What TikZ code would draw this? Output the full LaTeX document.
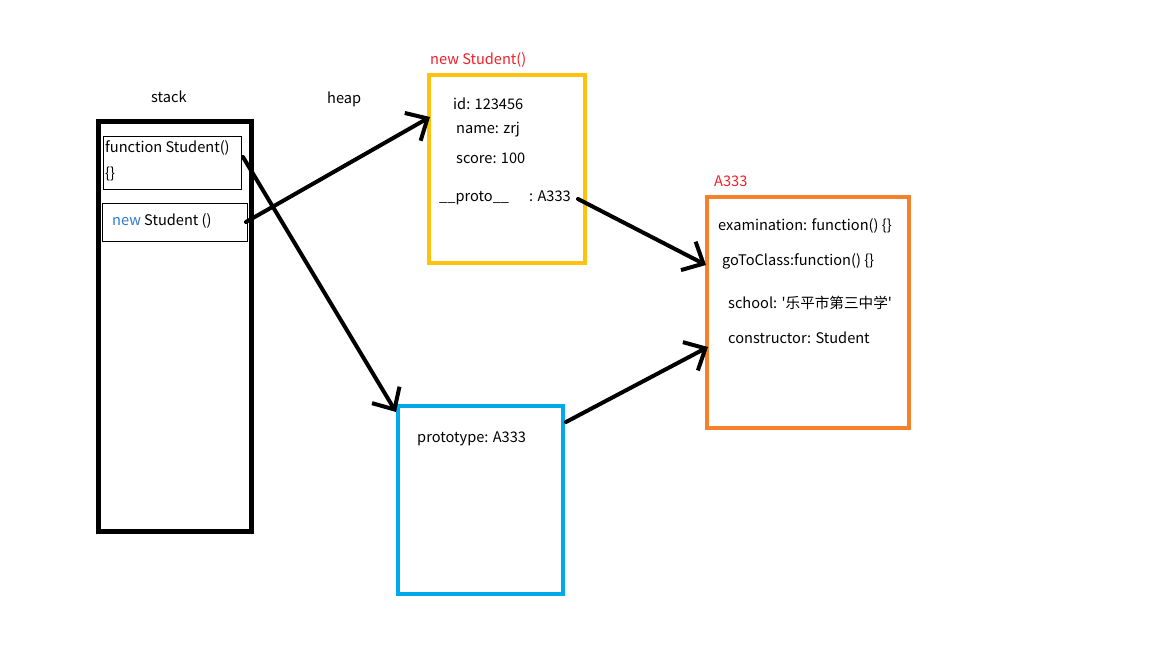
\documentclass[tikz,border=0pt]{standalone}
\usepackage{fontspec}
\setmainfont{Noto Sans CJK SC}[Ligatures=TeXOff]
\usetikzlibrary{arrows.meta}
\definecolor{yel}{HTML}{FFC20E}
\definecolor{org}{HTML}{F7812A}
\definecolor{blu}{HTML}{00A8EC}
\definecolor{lbl}{HTML}{F0202A}
\definecolor{newblue}{HTML}{2E7BC6}
\begin{document}
\begin{tikzpicture}[x=1pt,y=-1pt,
  txt/.style={anchor=west,inner sep=0pt,font=\fontsize{14.6}{17}\selectfont},
  red/.style={txt,text=lbl},
  arr/.style={line width=4pt,line cap=round,-{Straight Barb[length=17pt,width=32pt,line width=4pt]}},
  thinbox/.style={draw=black,line width=1pt}]
\useasboundingbox (0,0) rectangle (1152,648);
\fill[white] (0,0) rectangle (1152,648);
% stack
\node[txt] (stacklbl) at (151,97) {stack};
\node[txt] (heaplbl) at (327,99) {heap};
\draw[line width=5pt] (98,121) rectangle (251,531);
\draw[thinbox] (103,136) rectangle (241,189);
\coordinate (fs) at (243,157);
\node[txt] (f1) at (105,148) {function Student()};
\node[txt] (f2) at (105,174) {\{\}};
\draw[thinbox] (102,203) rectangle (247,241);
\coordinate (ns) at (246,222);
\node[txt] (n1) at (112,221) {\textcolor{newblue}{new} Student ()};
% yellow
\node[red] (ylbl) at (430,60) {new Student()};
\draw[yel,line width=4pt] (429,75) rectangle (585,263);
\node[txt] (y1) at (453,104) {id: 123456};
\node[txt] (y2) at (456,130) {name: zrj};
\node[txt] (y3) at (456,158) {score: 100};
\node[txt] (y4) at (439,198) {\_\_proto\_\_\hspace{20pt}: A333};
\coordinate (ys) at (578,199);
\coordinate (yt) at (430,117);
% orange
\node[red] (olbl) at (714,181) {A333};
\draw[org,line width=4pt] (707,197) rectangle (909,428);
\node[txt] (o1) at (718,226) {examination: function() \{\}};
\node[txt] (o2) at (722,261) {goToClass:function() \{\}};
\node[txt] (o3) at (728,303) {school: '乐平市第三中学'};
\node[txt] (o4) at (728,338) {constructor: Student};
\coordinate (ot1) at (706,265);
\coordinate (ot2) at (708,347);
% blue
\draw[blu,line width=4pt] (398,406) rectangle (563,594);
\node[txt] (b1) at (417,439) {prototype: A333};
\coordinate (bt) at (396,412);
\coordinate (bs) at (566,422);
% arrows
\draw[arr] (ns) -- (yt);
\draw[arr] (fs) -- (bt);
\draw[arr] (ys) -- (ot1);
\draw[arr] (bs) -- (ot2);
\end{tikzpicture}
\end{document}
